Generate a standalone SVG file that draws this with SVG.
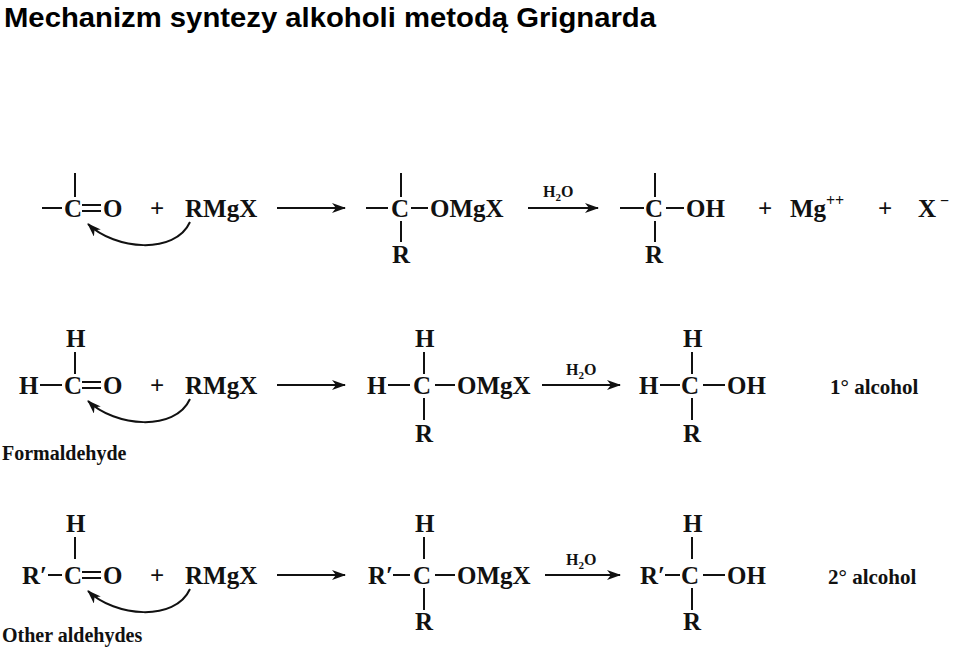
<svg xmlns="http://www.w3.org/2000/svg" width="959" height="648" viewBox="0 0 959 648">
<style>
.t{font-family:"Liberation Serif",serif;font-size:25px;fill:#111;font-weight:bold}
.s{font-family:"Liberation Serif",serif;font-size:16px;fill:#111;font-weight:bold}
.ti{font-family:"Liberation Sans",sans-serif;font-size:28px;font-weight:bold;fill:#000}
.b{stroke:#111;stroke-width:2;fill:none}
</style>
<defs>
<marker id="ah" markerWidth="14" markerHeight="10" refX="13" refY="5" orient="auto" markerUnits="userSpaceOnUse"><path d="M0,0 L14,5 L0,10 L4,5 Z" fill="#111"/></marker>
</defs>
<rect width="959" height="648" fill="#fff"/>
<text class="ti" x="4" y="27" textLength="652" lengthAdjust="spacingAndGlyphs">Mechanizm syntezy alkoholi metodą Grignarda</text>

<g id="row1">
<g id="r1-carbonyl"><path class="b" d="M42,208H62M75,173V197M82,205H101M82,211H101"/><text class="t" x="64" y="217">C</text><text class="t" x="103" y="217">O</text></g>
<g id="r1-plus"><text class="t" x="150" y="217">+</text></g>
<g id="r1-rmgx"><text class="t" x="185" y="217">RMgX</text></g>
<g id="r1-int"><path class="b" d="M366,208H388M401,173V197M401,221V242M411,208H428"/><text class="t" x="391" y="217">C</text><text class="t" x="430" y="217">OMgX</text><text class="t" x="392" y="263">R</text></g>
<g id="r1-prod"><path class="b" d="M620,208H644M655,173V197M655,221V242M666,208H684"/><text class="t" x="645" y="217">C</text><text class="t" x="686" y="217">OH</text><text class="t" x="645" y="263">R</text></g>
<g id="r1-ions"><text class="t" x="758" y="217">+</text><text class="t" x="790" y="217">Mg</text><text class="s" x="826" y="206">++</text><text class="t" x="878" y="217">+</text><text class="t" x="918" y="217">X</text><text class="s" x="940" y="206">−</text></g>
</g>

<g id="row2">
<g id="r2-form"><text class="t" x="66" y="347">H</text><path class="b" d="M75,352V374M40,385H62M82,382H101M82,388H101"/><text class="t" x="19" y="394">H</text><text class="t" x="64" y="394">C</text><text class="t" x="103" y="394">O</text><text class="t" x="2" y="460" style="font-size:20px">Formaldehyde</text></g>
<g id="r2-plus"><text class="t" x="150" y="394">+</text></g>
<g id="r2-rmgx"><text class="t" x="185" y="394">RMgX</text></g>
<g id="r2-int"><text class="t" x="415" y="347">H</text><path class="b" d="M388,385H410M424,352V374M424,398V420M435,385H455"/><text class="t" x="367" y="394">H</text><text class="t" x="413" y="394">C</text><text class="t" x="457" y="394">OMgX</text><text class="t" x="415" y="442">R</text></g>
<g id="r2-prod"><text class="t" x="683" y="347">H</text><path class="b" d="M660,385H680M692,352V374M692,398V420M703,385H725"/><text class="t" x="639" y="394">H</text><text class="t" x="681" y="394">C</text><text class="t" x="727" y="394">OH</text><text class="t" x="683" y="442">R</text></g>
<g id="r2-label"><text class="t" x="830" y="394" style="font-size:21px">1° alcohol</text></g>
</g>

<g id="row3">
<g id="r3-ald"><text class="t" x="66" y="532">H</text><path class="b" d="M75,537V559M48,575H62M82,572H101M82,578H101"/><text class="t" x="22" y="584">R′</text><text class="t" x="64" y="584">C</text><text class="t" x="103" y="584">O</text><text class="t" x="2" y="642" style="font-size:20px">Other aldehydes</text></g>
<g id="r3-plus"><text class="t" x="150" y="584">+</text></g>
<g id="r3-rmgx"><text class="t" x="185" y="584">RMgX</text></g>
<g id="r3-int"><text class="t" x="415" y="532">H</text><path class="b" d="M393,575H410M424,537V559M424,588V610M435,575H455"/><text class="t" x="368" y="584">R′</text><text class="t" x="413" y="584">C</text><text class="t" x="457" y="584">OMgX</text><text class="t" x="415" y="630">R</text></g>
<g id="r3-prod"><text class="t" x="683" y="532">H</text><path class="b" d="M665,575H680M692,537V559M692,588V610M703,575H725"/><text class="t" x="640" y="584">R′</text><text class="t" x="681" y="584">C</text><text class="t" x="727" y="584">OH</text><text class="t" x="683" y="630">R</text></g>
<g id="r3-label"><text class="t" x="828" y="584" style="font-size:21px">2° alcohol</text></g>
</g>

<g id="connectors">
<path class="b" d="M277,208H345" marker-end="url(#ah)"/>
<path class="b" d="M528,208H598" marker-end="url(#ah)"/>
<text class="s" x="543" y="197">H<tspan font-size="11" dy="4">2</tspan><tspan dy="-4">O</tspan></text>
<path class="b" d="M190,222C175,255 115,250 88,224" marker-end="url(#ah)"/>
<path class="b" d="M277,385H345" marker-end="url(#ah)"/>
<path class="b" d="M542,385H620" marker-end="url(#ah)"/>
<text class="s" x="566" y="375">H<tspan font-size="11" dy="4">2</tspan><tspan dy="-4">O</tspan></text>
<path class="b" d="M190,399C175,432 115,427 88,401" marker-end="url(#ah)"/>
<path class="b" d="M277,575H345" marker-end="url(#ah)"/>
<path class="b" d="M545,575H620" marker-end="url(#ah)"/>
<text class="s" x="566" y="565">H<tspan font-size="11" dy="4">2</tspan><tspan dy="-4">O</tspan></text>
<path class="b" d="M190,589C175,622 115,617 88,591" marker-end="url(#ah)"/>
</g>
</svg>
